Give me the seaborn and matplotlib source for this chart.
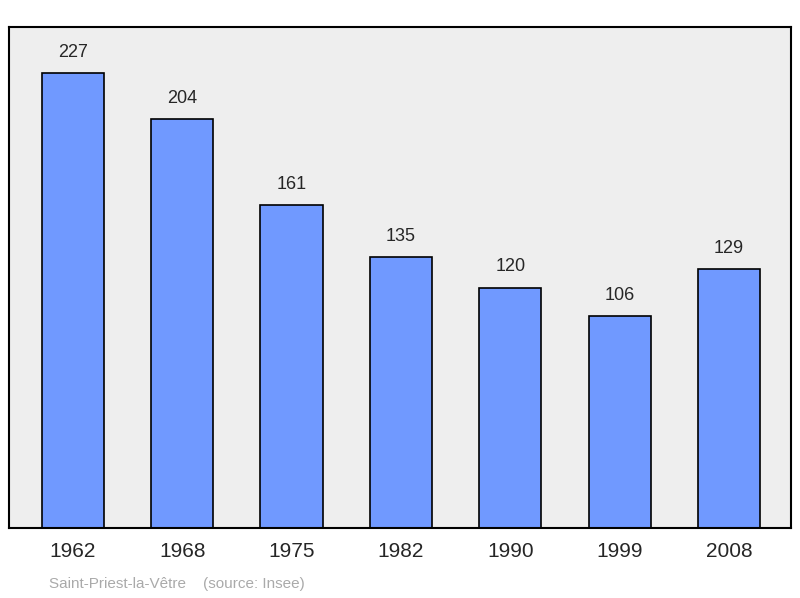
import matplotlib
matplotlib.use("Agg")
import matplotlib.pyplot as plt
import seaborn as sns
import pandas as pd

years = ["1962", "1968", "1975", "1982", "1990", "1999", "2008"]
population = [227, 204, 161, 135, 120, 106, 129]

df = pd.DataFrame({"year": years, "pop": population})

sns.set_style("white")
plt.rcParams['font.family'] = ['Liberation Sans', 'DejaVu Sans']

fig = plt.figure(figsize=(8, 5.98), dpi=100)
ax = fig.add_axes([9 / 800, 70 / 598, 782 / 800, 501 / 598])
ax.set_facecolor("#eeeeee")

sns.barplot(x="year", y="pop", data=df, color="#7099ff", width=0.57,
            edgecolor="black", linewidth=1.2, saturation=1, ax=ax)

for i, v in enumerate(population):
    ax.text(i, v + 6, str(v), ha="center", va="bottom", fontsize=13)

ax.set_ylim(0, 250)
ax.set_xlim(-0.585, 6.567)
ax.set_yticks([])
ax.set_xlabel("")
ax.set_ylabel("")
ax.tick_params(axis="x", labelsize=15, length=0, pad=10)
for s in ax.spines.values():
    s.set_linewidth(1.5)
    s.set_color("black")

fig.text(49 / 800, 1 - 584 / 598, "Saint-Priest-la-Vêtre    (source: Insee)",
         fontsize=11, color="#aaaaaa", va="center")

fig.savefig("out.png", dpi=100)
